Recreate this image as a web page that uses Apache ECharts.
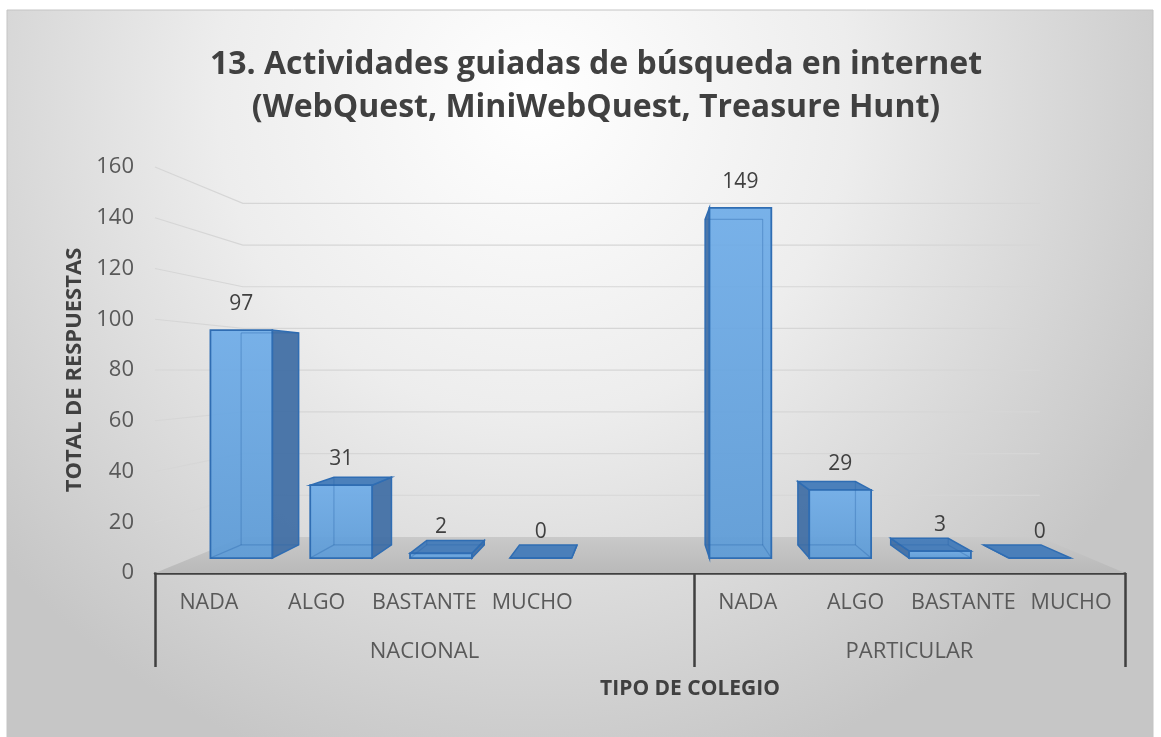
<!DOCTYPE html>
<html><head><meta charset="utf-8">
<script src="https://cdn.jsdelivr.net/npm/echarts@6/dist/echarts.min.js"></script>
<style>html,body{margin:0;padding:0;background:#fff}#c{width:1161px;height:737px}</style>
</head><body><div id="c"></div>
<script>
// ---- data ----
const titleLines = ['13. Actividades guiadas de búsqueda en internet', '(WebQuest, MiniWebQuest, Treasure Hunt)'];
const categories = ['NADA', 'ALGO', 'BASTANTE', 'MUCHO', '', 'NADA', 'ALGO', 'BASTANTE', 'MUCHO'];
const values = [97, 31, 2, 0, null, 149, 29, 3, 0];
const groupLabels = ['NACIONAL', 'PARTICULAR'];
const groupStart = [0, 5];
const groupEnd = [5, 9];
const yTicks = [0, 20, 40, 60, 80, 100, 120, 140, 160];
const yTitle = 'TOTAL DE RESPUESTAS';
const xTitle = 'TIPO DE COLEGIO';

// ---- 3D look parameters (perspective toward a vanishing point) ----
const VX = 0.508, VY = 0.502;   // vanishing point, fraction of grid
const K_WALL = 0.8216;          // depth of back wall
const K_FRONT = 0.926;          // depth of bar front faces
const K_BACK = 0.861;           // depth of bar back faces
const BAR_HALF = 0.31;          // half bar width as fraction of band

const FONT = 'Open Sans';

function makeProj(cs) {
  const V = [cs.x + cs.width * VX, cs.y + cs.height * VY];
  return { V, P: (x, y, k) => [V[0] + k * (x - V[0]), V[1] + k * (y - V[1])] };
}

function renderScene(params, api) {
  const cs = params.coordSys;
  const { P } = makeProj(cs);
  const xl = cs.x, xr = cs.x + cs.width;
  const children = [];
  const y0 = api.coord([0, 0])[1];
  // floor
  children.push({
    type: 'polygon',
    shape: { points: [[xl, y0], [xr, y0], P(xr, y0, K_WALL), P(xl, y0, K_WALL)] },
    style: { fill: new echarts.graphic.LinearGradient(0, 0, 0, 1, [
      { offset: 0, color: '#c9c9c9' }, { offset: 1, color: '#b9b9b9' }]) }
  });
  // gridlines: left wall diagonal + back wall
  yTicks.forEach(t => {
    if (t === 0) return;
    const y = api.coord([0, t])[1];
    const a = P(xl, y, K_WALL), b = P(xr, y, K_WALL);
    children.push({ type: 'polyline', shape: { points: [[xl, y], a, b] },
      style: { stroke: '#d6d6d6', lineWidth: 1.2, fill: null } });
  });
  return { type: 'group', children };
}

function renderBar(params, api) {
  const cs = params.coordSys;
  const { V, P } = makeProj(cs);
  const idx = api.value(0), val = api.value(1);
  const base = api.coord([idx, 0]);
  const top = api.coord([idx, val]);
  const hw = api.size([1, 0])[0] * BAR_HALF;
  const x0 = base[0] - hw, x1 = base[0] + hw, yb = base[1], yt = top[1];
  const f00 = P(x0, yb, K_FRONT), f10 = P(x1, yb, K_FRONT), f11 = P(x1, yt, K_FRONT), f01 = P(x0, yt, K_FRONT);
  const b00 = P(x0, yb, K_BACK), b10 = P(x1, yb, K_BACK), b11 = P(x1, yt, K_BACK), b01 = P(x0, yt, K_BACK);
  const edge = '#2f6db3';
  const faint = 'rgba(40,100,170,0.35)';
  const children = [];
  const rightSide = base[0] < V[0];
  const topVisible = yt > V[1] - 0.5;
  // side face
  const side = rightSide ? [f10, b10, b11, f11] : [f00, b00, b01, f01];
  children.push({ type: 'polygon', shape: { points: side },
    style: { fill: 'rgba(66,112,165,0.95)', stroke: edge, lineWidth: 1.5 } });
  // top face (visible when below eye level)
  if (topVisible) {
    children.push({ type: 'polygon', shape: { points: [f01, f11, b11, b01] },
      style: { fill: 'rgba(70,125,186,0.97)', stroke: edge, lineWidth: 1.5 } });
  }
  // front face
  if (Math.abs(yb - yt) > 0.5) {
    children.push({ type: 'polygon', shape: { points: [f00, f10, f11, f01] },
      style: { fill: new echarts.graphic.LinearGradient(0, 0, 0, 1, [
        { offset: 0, color: 'rgba(110,172,232,0.92)' }, { offset: 1, color: 'rgba(92,155,215,0.92)' }]),
        stroke: edge, lineWidth: 1.8 } });
    // faint hidden back edges seen through the front face
    const hidden = rightSide
      ? [[b01, b00], [b00, b10], [f00, b00]]
      : [[b11, b10], [b10, b00], [f10, b10]];
    if (!topVisible) hidden.push([b01, b11]);
    hidden.forEach(([p, q]) => children.push({ type: 'line',
      shape: { x1: p[0], y1: p[1], x2: q[0], y2: q[1] },
      style: { stroke: faint, lineWidth: 1.2 } }));
  } else {
    children.push({ type: 'line', shape: { x1: f00[0], y1: f00[1], x2: f10[0], y2: f10[1] },
      style: { stroke: edge, lineWidth: 2 } });
  }
  // value label
  children.push({ type: 'text', x: (f01[0] + f11[0]) / 2, y: f01[1] - 26,
    style: { text: String(val), fill: '#404040', font: '21px "' + FONT + '"', align: 'center', verticalAlign: 'middle' } });
  return { type: 'group', children };
}

const chart = echarts.init(document.getElementById('c'), null, { renderer: 'canvas' });
const barData = values.map((v, i) => [i, v]).filter(d => d[1] !== null);
const groupCenters = groupLabels.map((g, i) => (groupStart[i] + groupEnd[i]) / 2);
const groupTicks = Array.from(new Set(groupStart.concat(groupEnd)));

chart.setOption({
  animation: false,
  textStyle: { fontFamily: FONT },
  graphic: [{
    type: 'rect', z: -10, silent: true,
    shape: { x: 7, y: 10, width: 1146, height: 740 },
    style: {
      fill: new echarts.graphic.RadialGradient(0.46, 0.12, 0.95, [
        { offset: 0, color: '#ffffff' }, { offset: 0.45, color: '#ededed' }, { offset: 1, color: '#c6c6c6' }]),
      stroke: '#c4c4c4', lineWidth: 1
    }
  }],
  title: {
    text: titleLines.join('\n'),
    left: 591, top: 38, textAlign: 'center',
    textStyle: { fontFamily: FONT, fontSize: 32, fontWeight: 'bold', color: '#404040', lineHeight: 43 }
  },
  grid: { left: 155, right: 36, top: 167, bottom: 164, containLabel: false },
  xAxis: [{
    type: 'category', data: categories, position: 'bottom',
    axisLine: { show: true, lineStyle: { color: '#404040', width: 2.5 } },
    axisTick: { show: false },
    axisLabel: { interval: 0, margin: 19, fontSize: 21.5, color: '#595959', fontFamily: FONT },
    splitLine: { show: false }
  }, {
    type: 'value', min: 0, max: categories.length, position: 'bottom',
    axisLine: { show: false },
    splitLine: { show: false },
    axisTick: { show: true, customValues: groupTicks, length: 94, lineStyle: { color: '#404040', width: 2.5 } },
    axisLabel: {
      customValues: groupCenters, margin: 68, fontSize: 22, color: '#595959', fontFamily: FONT,
      formatter: v => { const i = groupCenters.indexOf(v); return i >= 0 ? groupLabels[i] : ''; }
    },
    name: xTitle, nameLocation: 'middle', nameGap: 106,
    nameTextStyle: { fontSize: 21, fontWeight: 'bold', color: '#404040', fontFamily: FONT, padding: [0, 0, 0, 100] }
  }],
  yAxis: {
    type: 'value', min: yTicks[0], max: yTicks[yTicks.length - 1], interval: yTicks[1] - yTicks[0],
    axisLine: { show: false }, axisTick: { show: false }, splitLine: { show: false },
    axisLabel: { margin: 21, fontSize: 22, color: '#595959', fontFamily: FONT },
    name: yTitle, nameLocation: 'middle', nameGap: 66,
    nameTextStyle: { fontSize: 22, fontWeight: 'bold', color: '#404040', fontFamily: FONT }
  },
  series: [{
    type: 'custom', name: 'scene', silent: true, z: 1, clip: false,
    renderItem: renderScene, data: [[0, 0]]
  }, {
    type: 'custom', name: 'Total', z: 2, clip: false,
    renderItem: renderBar, data: barData, encode: { x: 0, y: 1 }
  }]
});
</script>
</body></html>
